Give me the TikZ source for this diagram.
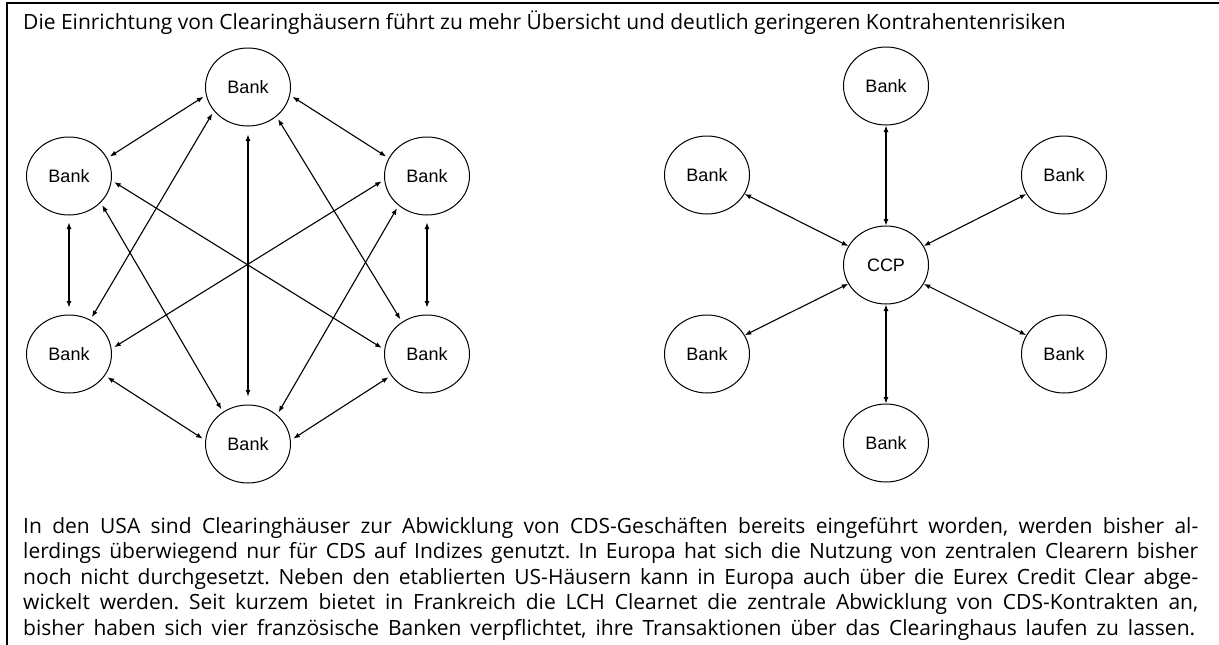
\documentclass[tikz,border=0pt]{standalone}
\usepackage{fontspec}
\setmainfont{Open Sans}
\newfontfamily\arialfont{Liberation Sans}
\usetikzlibrary{shapes.geometric,arrows.meta}
\frenchspacing

\tikzset{
  bank/.style={ellipse, draw, line width=1pt, minimum width=85pt, minimum height=78pt,
    inner sep=0pt, font=\arialfont\fontsize{18}{20}\selectfont},
  link/.style={{Latex[length=6.5pt,width=5pt]}-{Latex[length=6.5pt,width=5pt]}, line width=1.1pt},
  apart/.style={shorten <=#1, shorten >=#1},
  apart/.default=3pt,
  txt/.style={anchor=base west, inner sep=0pt, font=\fontsize{21}{25}\selectfont},
}

\begin{document}
\begin{tikzpicture}[x=1pt, y=-1pt, line cap=round]
\useasboundingbox (0,0) rectangle (1219,645);

% frame
\draw[line width=2.6pt, line cap=butt] (7,645) -- (7,3) -- (1219,3);

\node[txt] (title) at (23,29)
  {Die Einrichtung von Clearinghäusern führt zu mehr Übersicht und deutlich geringeren Kontrahentenrisiken};

% bilateral
\node[bank] (n1) at (248,87) {Bank};
\node[bank] (n2) at (427,176) {Bank};
\node[bank] (n3) at (427,354) {Bank};
\node[bank] (n4) at (248,444) {Bank};
\node[bank] (n5) at (69,354) {Bank};
\node[bank] (n6) at (69,176) {Bank};

\draw[link, apart] (n6.25) -- (n1.191);
\draw[link, apart] (n1.349) -- (n2.155);
\draw[link, apart=8pt] (n1.south) -- (n4.north);
\draw[link, apart] (n1.215) -- (n5.58);
\draw[link, apart] (n1.314) -- (n3.128);
\draw[link, apart] (n6.354) -- (n3.174);
\draw[link, apart] (n2.185) -- (n5.7);
\draw[link, apart] (n6.320) -- (n4.128);
\draw[link, apart] (n2.226) -- (n4.45);
\draw[link, apart=7pt] (n6.south) -- (n5.north);
\draw[link, apart=7pt] (n2.south) -- (n3.north);
\draw[link, apart] (n5.329) -- (n4.175);
\draw[link, apart] (n3.211) -- (n4.5);

% central counterparty
\node[bank] (ccp) at (886,265) {CCP};
\node[bank] (m1) at (886,86) {Bank};
\node[bank] (m2) at (1064,175) {Bank};
\node[bank] (m3) at (1064,354) {Bank};
\node[bank] (m4) at (886,443) {Bank};
\node[bank] (m5) at (707,354) {Bank};
\node[bank] (m6) at (707,175) {Bank};

\draw[link] (m1) -- (ccp);
\draw[link] (m2) -- (ccp);
\draw[link] (m3) -- (ccp);
\draw[link] (m4) -- (ccp);
\draw[link] (m5) -- (ccp);
\draw[link] (m6) -- (ccp);

% text below
\node[txt] (t1) at (23,533)
  {\makebox[1175pt][s]{In den USA sind Clearinghäuser zur Abwicklung von CDS-Geschäften bereits eingeführt worden, werden bisher al-}};
\node[txt] (t2) at (23,558.5)
  {\makebox[1175pt][s]{lerdings überwiegend nur für CDS auf Indizes genutzt. In Europa hat sich die Nutzung von zentralen Clearern bisher}};
\node[txt] (t3) at (23,584)
  {\makebox[1175pt][s]{noch nicht durchgesetzt. Neben den etablierten US-Häusern kann in Europa auch über die Eurex Credit Clear abge-}};
\node[txt] (t4) at (23,609.5)
  {\makebox[1175pt][s]{wickelt werden. Seit kurzem bietet in Frankreich die LCH Clearnet die zentrale Abwicklung von CDS-Kontrakten an,}};
\node[txt] (t5) at (23,635)
  {\makebox[1172pt][s]{bisher haben sich vier französische Banken verpflichtet, ihre Transaktionen über das Clearinghaus laufen zu lassen.}};

\end{tikzpicture}
\end{document}
